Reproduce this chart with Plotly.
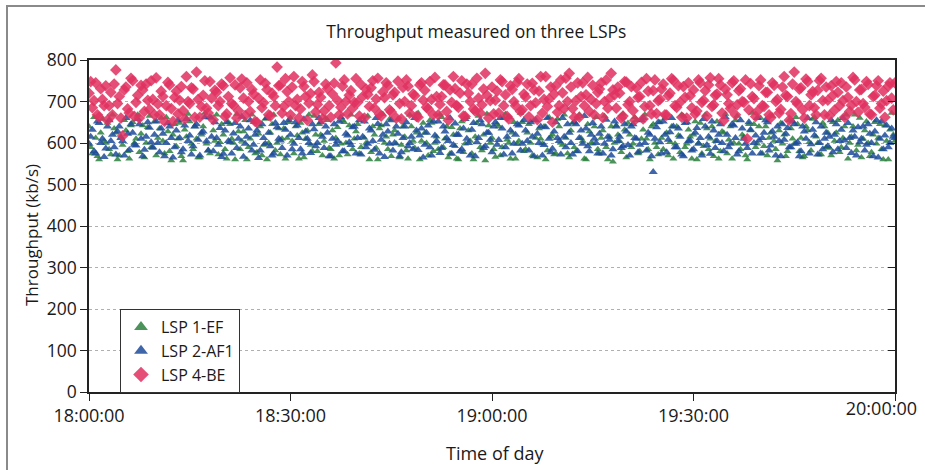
import pandas as pd
import plotly.graph_objects as go

# ---- data (kb/s), one sample every 15 s from 18:00:00 to 20:00:00 ----
start_time = "2000-01-01 18:00:00"
sample_step = "15s"

lsp1_ef = [
    640, 590, 575, 662, 612, 568, 560, 625, 658, 605, 600, 648, 585, 572, 668, 635, 625, 560, 570, 615,
    595, 655, 630, 580, 562, 642, 650, 600, 610, 668, 578, 622, 642, 565, 600, 638, 665, 590, 588, 652,
    570, 612, 635, 660, 605, 575, 662, 628, 580, 558, 620, 645, 592, 610, 648, 568, 558, 632, 615, 670,
    652, 598, 585, 640, 610, 565, 565, 620, 640, 672, 598, 582, 575, 660, 630, 605, 668, 572, 602, 645,
    620, 585, 562, 650, 645, 610, 600, 560, 670, 628, 585, 605, 628, 655, 560, 590, 610, 668, 650, 575,
    578, 622, 640, 570, 595, 658, 560, 600, 625, 645, 668, 582, 600, 635, 572, 610, 635, 562, 612, 650,
    660, 605, 575, 640, 618, 562, 648, 625, 565, 610, 630, 668, 595, 580, 665, 620, 580, 645, 620, 570,
    605, 660, 655, 588, 585, 630, 562, 612, 638, 570, 598, 655, 650, 600, 572, 642, 668, 585, 610, 628,
    645, 575, 590, 662, 612, 600, 665, 560, 578, 640, 620, 588, 560, 635, 642, 670, 600, 615, 585, 658,
    568, 620, 630, 598, 658, 565, 595, 640, 615, 582, 562, 668, 640, 605, 588, 625, 672, 560, 605, 648,
    625, 600, 570, 655, 648, 580, 600, 615, 585, 668, 662, 590, 610, 640, 565, 575, 638, 620, 592, 562,
    560, 635, 652, 578, 598, 662, 630, 605, 575, 560, 615, 648, 665, 590, 582, 620, 558, 670, 642, 600,
    612, 585, 566, 645, 640, 570, 590, 660, 670, 608, 600, 562, 625, 650, 562, 598, 605, 672, 650, 580,
    585, 625, 645, 600, 570, 655, 612, 565, 635, 610, 598, 640, 560, 582, 662, 615, 620, 572, 575, 658,
    640, 600, 595, 668, 612, 575, 565, 630, 648, 590, 580, 660, 668, 612, 605, 562, 560, 645, 628, 600,
    598, 640, 662, 585, 575, 612, 630, 665, 590, 560, 615, 640, 555, 600, 642, 620, 605, 578, 670, 632,
    565, 648, 620, 590, 598, 662, 655, 575, 580, 610, 632, 668, 610, 585, 560, 640, 645, 600, 590, 572,
    650, 612, 585, 660, 625, 570, 602, 640, 562, 598, 640, 618, 578, 668, 665, 590, 598, 632, 615, 562,
    620, 652, 560, 600, 648, 575, 592, 668, 635, 585, 610, 640, 568, 605, 652, 562, 580, 628, 625, 670,
    575, 608, 640, 562, 600, 655, 665, 598, 585, 620, 615, 570, 560, 645, 630, 672, 645, 590, 598, 640,
    660, 575, 592, 640, 570, 612, 625, 665, 605, 585, 558, 630, 648, 598, 620, 568, 580, 655, 635, 610,
    598, 662, 645, 580, 612, 565, 568, 640, 630, 602, 582, 658, 662, 615, 600, 572, 572, 648, 640, 590,
    625, 588, 570, 650, 605, 625, 655, 578, 590, 612, 640, 668, 562, 600, 615, 640, 668, 582, 595, 660,
    565, 610, 630, 652, 600, 568, 578, 620, 650, 598, 612, 645, 585, 560, 642, 605, 560, 632, 672, 620,
    605,
]

lsp2_af1 = [
    598, 615, 632, 580, 575, 652, 648, 600, 610, 566, 587, 640, 655, 605, 620, 590, 572, 628, 640, 612,
    605, 570, 660, 622, 583, 645, 625, 596, 594, 658, 645, 610, 568, 584, 615, 650, 637, 602, 590, 620,
    652, 600, 578, 635, 622, 568, 600, 648, 640, 612, 565, 590, 630, 655, 612, 578, 585, 642, 658, 605,
    618, 572, 592, 640, 645, 608, 570, 625, 628, 662, 604, 582, 662, 615, 580, 650, 612, 596, 636, 566,
    574, 630, 650, 605, 602, 575, 623, 648, 588, 610, 640, 663, 567, 598, 615, 635, 655, 582, 596, 620,
    630, 564, 582, 645, 612, 598, 660, 625, 592, 570, 575, 648, 638, 610, 606, 588, 648, 632, 570, 655,
    620, 585, 598, 650, 642, 612, 585, 575, 657, 628, 610, 600, 576, 645, 633, 592, 600, 660, 650, 615,
    588, 640, 625, 568, 568, 610, 645, 596, 605, 652, 662, 580, 580, 622, 618, 602, 595, 638, 640, 575,
    612, 655, 572, 615, 652, 590, 598, 635, 630, 605, 584, 660, 646, 575, 608, 620, 566, 645, 628, 598,
    655, 582, 600, 640, 622, 568, 578, 612, 640, 650, 592, 600, 615, 585, 660, 630, 583, 618, 635, 565,
    596, 625, 642, 590, 570, 652, 618, 605, 652, 576, 588, 640, 628, 612, 605, 660, 574, 595, 647, 620,
    620, 580, 585, 635, 658, 610, 600, 570, 632, 648, 568, 602, 612, 655, 645, 588, 592, 625, 625, 608,
    578, 640, 650, 596, 607, 660, 635, 572, 590, 615, 662, 630, 575, 598, 620, 645, 642, 582, 598, 655,
    630, 605, 582, 650, 615, 568, 655, 622, 600, 640, 570, 595, 638, 660, 610, 578, 586, 628, 650, 612,
    605, 572, 660, 615, 590, 645, 625, 600, 572, 650, 645, 580, 612, 630, 598, 665, 635, 592, 580, 620,
    648, 610, 600, 575, 622, 640, 575, 598, 656, 615, 608, 570, 585, 652, 640, 605, 615, 588, 592, 645,
    628, 595, 570, 640, 645, 612, 610, 578, 596, 655, 660, 600, 582, 625, 620, 568, 530, 610, 638, 650,
    602, 575, 652, 620, 578, 608, 626, 660, 640, 590, 590, 635, 615, 572, 568, 648, 650, 605, 606, 582,
    585, 625, 636, 598, 612, 570, 658, 640, 595, 615, 574, 652, 630, 588, 605, 620, 645, 600, 580, 662,
    620, 590, 598, 645, 642, 612, 572, 580, 655, 635, 610, 598, 588, 650, 632, 575, 600, 618, 660, 606,
    575, 612, 625, 655, 650, 582, 594, 628, 615, 570, 640, 605, 568, 645, 608, 622, 636, 590, 590, 652,
    645, 598, 602, 568, 580, 640, 628, 610, 660, 575, 597, 632, 618, 650, 572, 600, 640, 585, 610, 625,
    592, 615, 655, 578, 620, 645, 585, 605, 632, 660, 606, 588, 648, 612, 576, 630, 615, 570, 638, 602,
    610, 640, 582, 596, 645, 622, 600, 568, 628, 655, 565, 610, 652, 585, 618, 642, 590, 600, 635, 615,
    612,
]

lsp4_be = [
    720, 748, 685, 702, 745, 668, 662, 731, 705, 690, 738, 655, 690, 722, 668, 742, 776, 695, 712, 660,
    617, 728, 735, 682, 672, 756, 750, 664, 698, 715, 660, 739, 728, 676, 742, 703, 681, 750, 705, 668,
    757, 694, 668, 725, 712, 652, 690, 746, 740, 683, 652, 710, 725, 670, 703, 736, 678, 658, 760, 700,
    695, 733, 730, 662, 771, 705, 662, 688, 715, 750, 684, 672, 748, 708, 656, 727, 722, 690, 700, 742,
    738, 664, 670, 712, 757, 695, 691, 740, 660, 678, 733, 754, 708, 666, 745, 700, 676, 729, 718, 652,
    650, 708, 752, 685, 697, 744, 729, 668, 665, 720, 712, 690, 783, 738, 740, 672, 688, 755, 724, 700,
    668, 735, 760, 690, 705, 660, 682, 748, 736, 712, 655, 696, 719, 764, 748, 675, 693, 722, 710, 658,
    677, 742, 731, 690, 662, 718, 744, 793, 703, 668, 686, 737, 752, 700, 670, 715, 726, 684, 698, 755,
    698, 665, 741, 712, 660, 730, 717, 688, 733, 750, 684, 706, 756, 670, 665, 723, 709, 745, 738, 680,
    675, 716, 722, 660, 749, 695, 658, 734, 700, 752, 737, 672, 690, 718, 714, 664, 662, 740, 745, 703,
    727, 686, 682, 748, 705, 668, 758, 712, 668, 693, 712, 740, 740, 676, 655, 728, 698, 760, 731, 690,
    686, 720, 750, 665, 664, 742, 720, 700, 742, 682, 677, 756, 708, 672, 692, 730, 768, 715, 660, 702,
    735, 670, 703, 725, 672, 752, 748, 690, 716, 664, 658, 738, 729, 700, 690, 746, 755, 676, 680, 718,
    711, 742, 663, 690, 744, 728, 697, 656, 725, 760, 672, 705, 760, 688, 706, 735, 650, 718, 738, 674,
    690, 752, 721, 683, 756, 700, 768, 735, 683, 662, 702, 745, 662, 712, 745, 690, 716, 758, 676, 705,
    739, 668, 695, 722, 730, 745, 661, 700, 752, 684, 708, 768, 728, 716, 684, 735, 720, 660, 665, 748,
    747, 692, 700, 736, 678, 655, 733, 710, 712, 746, 658, 688, 755, 725, 690, 670, 726, 752, 671, 702,
    705, 730, 742, 668, 667, 714, 720, 755, 751, 690, 686, 738, 698, 662, 736, 710, 660, 745, 714, 685,
    728, 670, 677, 752, 745, 698, 703, 726, 665, 740, 757, 688, 692, 715, 718, 755, 740, 672, 654, 730,
    716, 695, 683, 745, 750, 668, 692, 726, 731, 700, 698, 752, 610, 680, 743, 712, 707, 664, 676, 738,
    752, 690, 688, 722, 722, 668, 661, 745, 739, 700, 705, 672, 681, 735, 760, 715, 712, 655, 671, 742,
    771, 700, 694, 730, 733, 680, 660, 754, 748, 690, 716, 724, 685, 668, 727, 750, 756, 702, 668, 735,
    703, 666, 738, 715, 679, 748, 722, 690, 745, 702, 662, 735, 710, 676, 691, 758, 752, 700, 674, 728,
    729, 695, 686, 748, 741, 670, 668, 712, 715, 738, 750, 684, 695, 725, 662, 702, 737, 745, 708, 680,
    745,
]

x_tick_times = ["18:00:00", "18:30:00", "19:00:00", "19:30:00", "20:00:00"]
x_tick_labels = ["18:00:00", "18:30:00", "19:00:00", "19:30:00", "20:00:00"]
y_ticks = [0, 100, 200, 300, 400, 500, 600, 700, 800]

times = pd.date_range(start_time, periods=len(lsp4_be), freq=sample_step)
x_tick_vals = [pd.Timestamp("2000-01-01 " + t) for t in x_tick_times]

FONT = "Open Sans"
C_EF = "#2b7f3e"
C_AF = "#1d4b9a"
C_BE = "#e0305f"

fig = go.Figure()
fig.add_trace(go.Scatter(
    x=times, y=lsp1_ef, mode="markers", name="LSP 1-EF",
    marker=dict(symbol="triangle-up", size=7, color=C_EF, opacity=0.85, line=dict(width=0)),
))
fig.add_trace(go.Scatter(
    x=times, y=lsp2_af1, mode="markers", name="LSP 2-AF1",
    marker=dict(symbol="triangle-up", size=8, color=C_AF, opacity=0.85, line=dict(width=0)),
))
fig.add_trace(go.Scatter(
    x=times, y=lsp4_be, mode="markers", name="LSP 4-BE",
    marker=dict(symbol="diamond", size=9, color=C_BE, opacity=0.85, line=dict(width=0)),
))
# helper (empty) traces so the extra axes (right inward ticks, last time label) are drawn
fig.add_trace(go.Scatter(x=[], y=[], yaxis="y2", showlegend=False, hoverinfo="skip"))
fig.add_trace(go.Scatter(x=[], y=[], xaxis="x2", showlegend=False, hoverinfo="skip"))

x0 = x_tick_vals[0]
x1 = x_tick_vals[-1]

tick_font = dict(family=FONT, size=18)

fig.update_layout(
    width=925, height=470,
    margin=dict(l=89, r=30, t=60, b=78, autoexpand=False),
    paper_bgcolor="white", plot_bgcolor="white",
    font=dict(family=FONT, size=17, color="#1a1a1a"),
    title=dict(text="Throughput measured on three LSPs", x=0.515, xanchor="center",
               y=1 - 32 / 470, yanchor="middle", yref="container",
               font=dict(family=FONT, size=17.5, color="#1a1a1a")),
    xaxis=dict(
        type="date", range=[x0, x1], tickvals=x_tick_vals,
        ticktext=x_tick_labels[:-1] + [""],
        showgrid=False, zeroline=False, automargin=False,
        showline=True, linecolor="#222", linewidth=1.5, mirror=True,
        ticks="outside", ticklen=7, tickwidth=1.2, tickcolor="#222",
        tickfont=tick_font,
    ),
    # carries only the last time label, kept inside the picture as in the reference
    xaxis2=dict(
        type="date", overlaying="x", side="bottom", anchor="y", range=[x0, x1],
        tickvals=x_tick_vals[-1:], ticktext=x_tick_labels[-1:],
        ticklabelposition="outside left", ticklabelshift=22,
        showgrid=False, zeroline=False, showline=False, automargin=False,
        ticks="outside", ticklen=7, tickwidth=0, tickcolor="rgba(0,0,0,0)",
        tickfont=tick_font,
    ),
    yaxis=dict(
        range=[0, 800], tickvals=y_ticks, showgrid=True, automargin=False,
        gridcolor="#b0b0b0", griddash="dot", gridwidth=1,
        zeroline=False, showline=True, linecolor="#222", linewidth=1.5, mirror=True,
        ticks="outside", ticklen=7, tickwidth=1.2, tickcolor="#222",
        tickfont=dict(family=FONT, size=17.5),
    ),
    yaxis2=dict(
        overlaying="y", side="right", anchor="x", range=[0, 800], tickvals=y_ticks,
        showticklabels=False, showgrid=False, zeroline=False, showline=False, automargin=False,
        ticks="inside", ticklen=7, tickwidth=1.2, tickcolor="#222",
    ),
    legend=dict(
        x=(120 - 89) / 806, y=(392 - 351) / 332, xanchor="left", yanchor="middle",
        bgcolor="white", bordercolor="#333", borderwidth=1,
        font=dict(family=FONT, size=16), itemsizing="constant",
        tracegroupgap=0,
    ),
    showlegend=True,
    annotations=[
        dict(text="Throughput (kb/s)", xref="paper", yref="paper",
             x=(31 - 89) / 806, y=(392 - 235) / 332, textangle=-90, showarrow=False,
             xanchor="center", yanchor="middle", font=dict(family=FONT, size=17)),
        dict(text="Time of day", xref="paper", yref="paper",
             x=(495 - 89) / 806, y=(392 - 453) / 332, showarrow=False,
             xanchor="center", yanchor="middle", font=dict(family=FONT, size=18)),
    ],
    shapes=[
        dict(type="rect", xref="paper", yref="paper",
             x0=(7 - 89) / 806, x1=(960 - 89) / 806,
             y0=(392 - 500) / 332, y1=(392 - 6) / 332,
             line=dict(color="#8a8a8a", width=2), fillcolor="rgba(0,0,0,0)", layer="below"),
    ],
)

fig.write_html(
    "out.html",
    config={"displayModeBar": False},
    post_script="document.body.style.margin='0';document.body.style.overflow='hidden';",
)
